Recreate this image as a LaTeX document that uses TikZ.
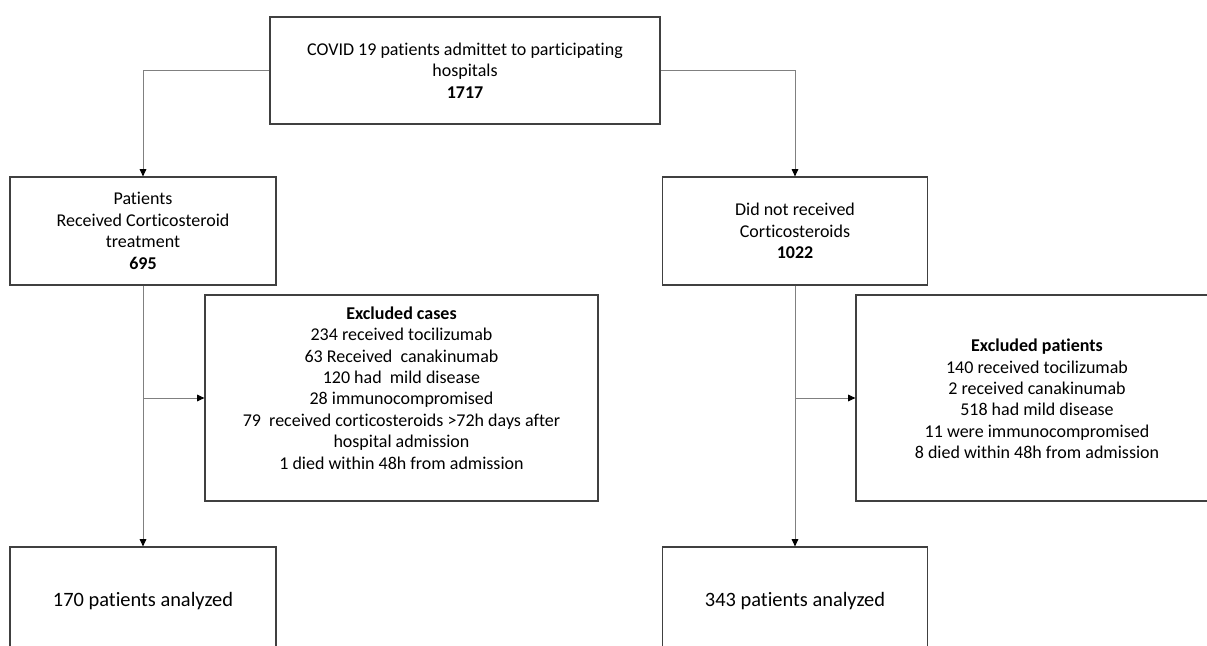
\documentclass[tikz,border=0pt]{standalone}
\usepackage{fontspec}
\setmainfont{Carlito}[Ligatures=NoCommon]
\usetikzlibrary{arrows.meta}

\begin{document}
\begin{tikzpicture}[x=0.75pt,y=-0.75pt,
    font=\fontsize{13.5}{16.1}\selectfont,
    flowbox/.style={draw=black!75, line width=0.9pt, inner sep=0pt, align=center},
    plain/.style={inner sep=0pt, align=center},
    conn/.style={draw=black!50, line width=0.7pt},
    tip/.style={conn, -{Triangle[length=5.5pt,width=5pt,fill=black,color=black]}}]

    \useasboundingbox (0,0) rectangle (1207,646);
    \clip (0,0) rectangle (1207,646);

    % admitted patients
    \node[flowbox, minimum width=390*0.75pt, minimum height=107*0.75pt] (top) at (465,70.5)
        {COVID 19 patients admittet to participating\\hospitals\\\textbf{1717}};

    % two arms
    \node[flowbox, minimum width=266*0.75pt, minimum height=108*0.75pt] (pLeft) at (143,231)
        {Patients\\Received Corticosteroid\\treatment\\\textbf{695}};
    \node[flowbox, minimum width=265*0.75pt, minimum height=108*0.75pt] (pRight) at (795,231)
        {Did not received\\Corticosteroids\\\textbf{1022}};

    % exclusions
    \node[flowbox, minimum width=393*0.75pt, minimum height=206*0.75pt] (exL) at (401.5,398) {};
    \node[plain] (exLtxt) at (401.5,388)
        {\textbf{Excluded cases}\\234 received tocilizumab\\63 Received~ canakinumab\\120 had~ mild disease\\28 immunocompromised\\79~ received corticosteroids >72h days after\\hospital admission\\1 died within 48h from admission};
    \node[flowbox, minimum width=362*0.75pt, minimum height=206*0.75pt] (exR) at (1037,398) {};
    \node[plain] (exRtxt) at (1037,399)
        {\textbf{Excluded patients}\\140 received tocilizumab\\2 received canakinumab\\518 had mild disease\\11 were immunocompromised\\8 died within 48h from admission};

    % analysed
    \node[flowbox, minimum width=266*0.75pt, minimum height=108*0.75pt, font=\fontsize{15.3}{18}\selectfont] (bLeft) at (143,601)
        {170 patients analyzed};
    \node[flowbox, minimum width=265*0.75pt, minimum height=108*0.75pt, font=\fontsize{15.3}{18}\selectfont] (bRight) at (795,601)
        {343 patients analyzed};

    \coordinate (jL) at (143,398);
    \coordinate (jR) at (795,398);

    \draw[tip] (top.west) -| (pLeft.north);
    \draw[tip] (top.east) -| (pRight.north);
    \draw[tip] (pLeft.south) -- (bLeft.north);
    \draw[tip] (pRight.south) -- (bRight.north);
    \draw[tip] (jL) -- (exL.west); % to excluded cases
    \draw[tip] (jR) -- (exR.west); % to excluded patients

\end{tikzpicture}
\end{document}
